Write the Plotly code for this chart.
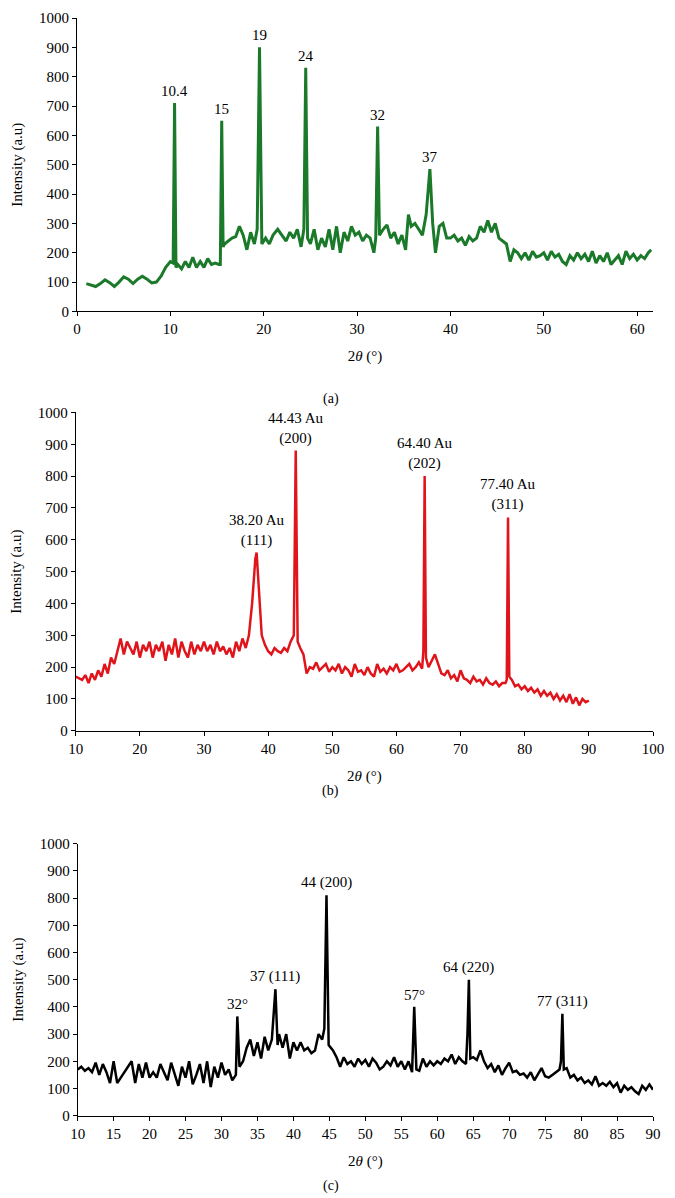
import plotly.graph_objects as go

# Panel (a)
xa = [1,1.5,2,2.5,3,3.5,4,4.5,5,5.5,
      6,6.5,7,7.5,8,8.5,9,9.5,10,10.3,
      10.45,10.6,10.8,11.2,11.6,12,12.4,12.8,13.2,13.6,
      14,14.4,14.8,15.2,15.35,15.5,15.65,15.8,16.2,16.6,
      17,17.4,17.8,18.2,18.6,19,19.3,19.55,19.8,20.2,
      20.6,21,21.5,22,22.4,22.8,23.2,23.6,24,24.3,
      24.5,24.7,25,25.4,25.8,26.2,26.6,27,27.4,27.8,
      28.2,28.6,29,29.4,29.8,30.2,30.6,31,31.4,31.8,
      32.0,32.2,32.4,32.8,33.2,33.6,34,34.4,34.8,35.2,
      35.5,35.8,36.2,36.6,37,37.4,37.8,38.1,38.4,38.8,
      39.2,39.6,40,40.4,40.8,41.2,41.6,42,42.4,42.8,
      43.2,43.6,44,44.4,44.8,45.2,45.6,46,46.4,46.8,
      47.2,47.6,48,48.4,48.8,49.2,49.6,50,50.4,50.8,
      51.2,51.6,52,52.4,52.8,53.2,53.6,54,54.4,54.8,
      55.2,55.6,56,56.4,56.8,57.2,57.6,58,58.4,58.8,
      59.2,59.6,60,60.4,60.8,61.2,61.5]
ya = [95,90,85,95,108,98,85,100,118,110,
      95,110,120,110,97,100,120,150,170,165,
      710,150,160,145,170,150,185,150,170,150,
      180,160,165,160,160,650,220,230,240,250,
      255,290,260,210,270,230,280,900,230,250,
      230,260,280,260,240,270,250,280,220,280,
      830,250,230,280,210,250,220,280,210,290,
      200,270,240,290,260,270,240,260,250,200,
      250,630,260,280,295,250,270,230,260,210,
      330,290,300,280,260,330,485,300,200,290,
      300,250,250,260,240,250,225,255,240,250,
      290,270,310,270,300,250,240,230,170,210,
      200,180,200,175,205,185,190,200,175,205,
      185,195,170,160,190,175,200,180,195,170,
      205,165,190,170,200,160,175,190,160,205,
      180,195,175,190,180,200,210]

# Panel (b)
xb = [10,10.5,11,11.5,12,12.5,13,13.5,14,14.5,
      15,15.5,16,16.5,17,17.5,18,18.5,19,19.5,
      20,20.5,21,21.5,22,22.5,23,23.5,24,24.5,
      25,25.5,26,26.5,27,27.5,28,28.5,29,29.5,
      30,30.5,31,31.5,32,32.5,33,33.5,34,34.5,
      35,35.5,36,36.5,37,37.5,38,38.2,38.5,39,
      39.5,40,40.5,41,41.5,42,42.5,43,43.5,44,
      44.3,44.6,45,45.5,46,46.5,47,47.5,48,48.5,
      49,49.5,50,50.5,51,51.5,52,52.5,53,53.5,
      54,54.5,55,55.5,56,56.5,57,57.5,58,58.5,
      59,59.5,60,60.5,61,61.5,62,62.5,63,63.5,
      64,64.2,64.4,64.6,65,65.5,66,66.5,67,67.5,
      68,68.5,69,69.5,70,70.5,71,71.5,72,72.5,
      73,73.5,74,74.5,75,75.5,76,76.5,77,77.2,
      77.4,77.6,78,78.5,79,79.5,80,80.5,81,81.5,
      82,82.5,83,83.5,84,84.5,85,85.5,86,86.5,
      87,87.5,88,88.5,89,89.5,90]
yb = [170,165,160,175,150,180,160,190,170,210,
      180,230,210,250,290,240,280,260,240,280,
      230,270,250,280,230,270,250,280,220,270,
      240,290,230,280,250,230,280,240,270,250,
      280,250,270,240,280,250,265,240,260,230,
      280,250,290,260,300,400,540,560,470,300,
      270,250,240,260,250,245,260,250,280,300,
      880,280,260,240,180,200,195,215,190,200,
      210,185,200,190,210,180,200,190,170,210,
      185,190,175,200,180,170,210,185,195,180,
      200,190,210,185,190,200,210,190,200,215,
      195,250,800,230,200,220,240,210,180,175,
      190,165,175,155,190,165,160,150,170,155,
      160,145,165,150,145,155,140,150,150,160,
      670,170,160,140,145,130,140,125,135,120,
      130,110,125,110,120,100,115,95,110,90,
      115,85,105,80,100,90,95]

# Panel (c)
xc = [10,10.5,11,11.5,12,12.5,13,13.5,14,14.5,
      15,15.5,16,16.5,17,17.5,18,18.5,19,19.5,
      20,20.5,21,21.5,22,22.5,23,23.5,24,24.5,
      25,25.5,26,26.5,27,27.5,28,28.5,29,29.5,
      30,30.5,31,31.5,32,32.2,32.5,33,33.5,34,
      34.5,35,35.5,36,36.5,37,37.5,37.8,38,38.5,
      39,39.5,40,40.5,41,41.5,42,42.5,43,43.5,
      44,44.3,44.6,44.9,45.5,46,46.5,47,47.5,48,
      48.5,49,49.5,50,50.5,51,51.5,52,52.5,53,
      53.5,54,54.5,55,55.5,56,56.5,56.8,57.1,57.5,
      58,58.5,59,59.5,60,60.5,61,61.5,62,62.5,
      63,63.5,64,64.2,64.4,64.6,65,65.5,66,66.5,
      67,67.5,68,68.5,69,69.5,70,70.5,71,71.5,
      72,72.5,73,73.5,74,74.5,75,75.5,76,76.5,
      77,77.2,77.4,77.6,78,78.5,79,79.5,80,80.5,
      81,81.5,82,82.5,83,83.5,84,84.5,85,85.5,
      86,86.5,87,87.5,88,88.5,89,89.5,90]
yc = [170,180,165,175,160,195,150,190,160,120,
      200,120,140,160,180,200,120,190,140,195,
      140,160,140,190,160,130,195,150,110,180,
      140,200,115,150,190,120,200,105,180,140,
      195,150,170,130,150,365,180,200,250,280,
      220,270,210,290,240,280,465,260,300,250,
      300,210,270,240,270,240,250,230,240,300,
      280,320,810,260,240,215,180,215,190,200,
      180,210,190,205,180,210,195,170,180,200,
      185,215,180,200,170,200,160,400,170,165,
      210,180,200,185,200,190,210,200,225,190,
      215,200,190,300,500,210,215,205,240,200,
      175,190,160,185,150,175,195,160,165,150,
      155,140,160,130,150,175,145,140,150,160,
      170,200,375,170,175,140,150,130,140,120,
      130,115,145,110,120,110,125,105,120,85,
      110,95,105,90,80,110,95,115,95]

labels_a = [(10.45, 710, "10.4"), (15.5, 650, "15"), (19.55, 900, "19"),
            (24.5, 830, "24"), (32.2, 630, "32"), (37.8, 485, "37")]
labels_b = [(38.2, 560, "38.20 Au<br>(111)"), (44.3, 880, "44.43 Au<br>(200)"),
            (64.4, 800, "64.40 Au<br>(202)"), (77.4, 670, "77.40 Au<br>(311)")]
labels_c = [(32.2, 365, "32°"), (37.5, 465, "37 (111)"), (44.6, 810, "44 (200)"),
            (56.8, 400, "57°"), (64.4, 500, "64 (220)"), (77.4, 375, "77 (311)")]

FONT = "Liberation Serif"
fig = go.Figure()
fig.add_trace(go.Scatter(x=xa, y=ya, mode="lines", line=dict(color="#1a7a2a", width=3), xaxis="x", yaxis="y"))
fig.add_trace(go.Scatter(x=xb, y=yb, mode="lines", line=dict(color="#e0151b", width=2.5), xaxis="x2", yaxis="y2"))
fig.add_trace(go.Scatter(x=xc, y=yc, mode="lines", line=dict(color="black", width=2.5), xaxis="x3", yaxis="y3"))

ax = dict(showgrid=False, zeroline=False, showline=True, linecolor="black", linewidth=1, automargin=False,
          ticks="outside", ticklen=4, tickcolor="black", tickfont=dict(family=FONT, size=15, color="black"),
          title_font=dict(family=FONT, size=15, color="black"))
xtitle = "2<i>θ</i> (°)"
xt = dict(text=xtitle, standoff=14)
yt = dict(text="Intensity (a.u)", standoff=12)
lay = dict(
    width=675, height=1198, showlegend=False, plot_bgcolor="white", paper_bgcolor="white",
    margin=dict(l=0, r=30, t=10, b=0),
    xaxis=dict(ax, domain=[0.107, 1.0], range=[0, 61.7], dtick=10, anchor="y", title=xt),
    yaxis=dict(ax, domain=[0.753, 1.0], range=[0, 1000], dtick=100, anchor="x", title=yt),
    xaxis2=dict(ax, domain=[0.105, 1.0], range=[10, 100], dtick=10, anchor="y2", title=xt),
    yaxis2=dict(ax, domain=[0.400, 0.668], range=[0, 1000], dtick=100, anchor="x2", title=yt),
    xaxis3=dict(ax, domain=[0.108, 1.0], range=[10, 90], dtick=5, anchor="y3", title=xt),
    yaxis3=dict(ax, domain=[0.076, 0.305], range=[0, 1000], dtick=100, anchor="x3", title=yt),
)
fig.update_layout(**lay)

ann = []
for xr, yr, labs in (("x", "y", labels_a), ("x2", "y2", labels_b), ("x3", "y3", labels_c)):
    for x, y, t in labs:
        ann.append(dict(x=x, y=y, xref=xr, yref=yr, text=t, showarrow=False, yanchor="bottom",
                        yshift=2, font=dict(family=FONT, size=15, color="black")))
for y, t in ((0.688, "(a)"), (0.349, "(b)"), (0.008, "(c)")):
    ann.append(dict(x=0.5, y=y, xref="paper", yref="paper", text=t, showarrow=False,
                    font=dict(family=FONT, size=14, color="black")))
fig.update_layout(annotations=ann)
fig.write_html("out.html")
